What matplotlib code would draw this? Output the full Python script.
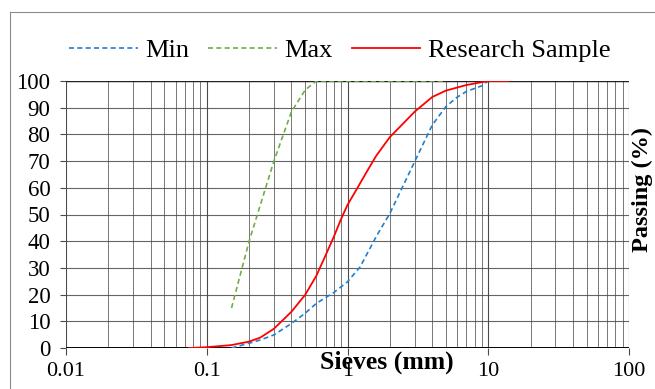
import numpy as np
import matplotlib
matplotlib.use("Agg")
import matplotlib.pyplot as plt
from matplotlib.lines import Line2D
from matplotlib.ticker import FixedLocator, NullFormatter

plt.rcParams["font.family"] = ["Liberation Serif", "DejaVu Serif"]

# values
min_x = [0.15, 0.2, 0.24, 0.3, 0.4, 0.5, 0.6, 0.8, 1.0, 1.23, 1.61, 2.0, 3.0, 4.0, 5.0, 6.0, 7.0, 9.0, 10]
min_y = [0, 1.8, 3.0, 4.9, 9.2, 13, 16.7, 20.8, 24.8, 30.4, 42, 50.4, 69.8, 83.5, 90.4, 93.9, 96.1, 98.2, 100]

max_x = [0.15, 0.2, 0.3, 0.4, 0.5, 0.6, 1.18, 2.36, 4.75]
max_y = [15, 40, 70, 88.5, 96.6, 100, 100, 100, 100]

res_x = [0.075, 0.1, 0.15, 0.2, 0.24, 0.3, 0.4, 0.5, 0.6, 0.7, 0.8, 0.9, 1.0, 1.19, 1.37, 1.6, 2.0, 2.5,
         3.0, 4.0, 5.0, 7.0, 10, 14]
res_y = [0, 0.3, 1.1, 2.4, 3.9, 7.2, 13.6, 19.9, 27, 34.8, 41.7, 48.3, 53.6, 60.4, 66, 72, 79, 84.2,
         88.5, 94, 96.4, 98.5, 100, 100]

x_ticks = [0.01, 0.1, 1, 10, 100]
x_labels = ["0.01", "0.1", "1", "10", "100"]
y_ticks = list(range(0, 101, 10))

BLUE = "#1f7fd0"; GREEN = "#70ad47"; RED = "#ff0000"; GRID = "#4a4a4a"

fig = plt.figure(figsize=(6.55, 3.89), dpi=100)
ax = fig.add_axes([66 / 655, 1 - 348 / 389, 563 / 655, 267 / 389])
ax.set_xscale("log")
ax.set_xlim(0.01, 100)
ax.set_ylim(0, 100)

# grid: decades + log minors, horizontal every 10
minors = [m * 10.0 ** e for e in range(-2, 2) for m in range(2, 10)]
for v in minors:
    ax.axvline(v, color=GRID, lw=0.7, alpha=0.75, zorder=0)
for v in x_ticks:
    ax.axvline(v, color=GRID, lw=0.8, zorder=0)
for v in y_ticks:
    ax.axhline(v, color=GRID, lw=0.8, alpha=0.85, zorder=0)
ax.axhline(100, color="#222222", lw=1.0, zorder=1)
ax.axhline(0, color="black", lw=1.4, zorder=1)

for s in ax.spines.values():
    s.set_visible(False)

dash = (0, (3, 2))
ax.plot(min_x, min_y, color=BLUE, lw=1.2, ls=dash, zorder=3)
ax.plot(max_x, max_y, color=GREEN, lw=1.2, ls=dash, zorder=3)
ax.plot(res_x, res_y, color=RED, lw=1.3, zorder=4)

ax.xaxis.set_major_locator(FixedLocator(x_ticks))
ax.xaxis.set_minor_locator(FixedLocator([]))
ax.xaxis.set_minor_formatter(NullFormatter())
ax.set_xticklabels(x_labels)
ax.set_yticks(y_ticks)
ax.tick_params(axis="x", direction="out", length=5, width=0.8, color=GRID, pad=5, labelsize=16)
ax.tick_params(axis="y", direction="out", length=4.3, width=0.8, color=GRID, pad=7, labelsize=16.5)

fig.text(0.591, 0.069, "Sieves (mm)", ha="center", va="center", fontsize=18.5, fontweight="bold")
fig.text(0.981, 0.512, "Passing (%)", ha="center", va="center", rotation=90, fontsize=17.5, fontweight="bold")

handles = [Line2D([0], [0], color=BLUE, lw=1.2, ls=dash, label="Min"),
           Line2D([0], [0], color=GREEN, lw=1.2, ls=dash, label="Max"),
           Line2D([0], [0], color=RED, lw=1.3, label="Research Sample")]
fig.legend(handles=handles, loc="center", bbox_to_anchor=(0.519, 0.871), ncol=3, frameon=False,
           fontsize=19, handlelength=2.6, handletextpad=0.3, columnspacing=0.7)

# outer chart frame
fig.add_artist(Line2D([10 / 655, 10 / 655], [0, 1 - 12 / 389], transform=fig.transFigure, color="#8c8c8c", lw=0.8))
fig.add_artist(Line2D([10 / 655, 1], [1 - 12 / 389, 1 - 12 / 389], transform=fig.transFigure, color="#8c8c8c", lw=0.8))

fig.savefig("out.png", dpi=100)
